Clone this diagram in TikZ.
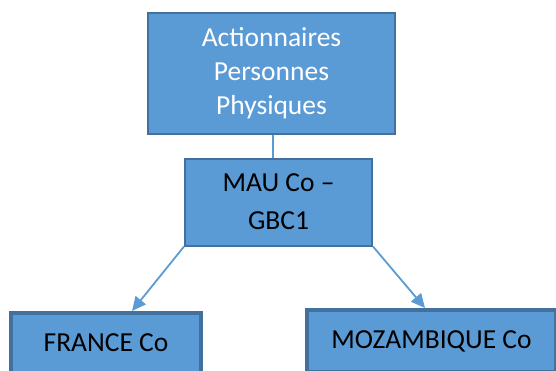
\documentclass[tikz,border=0pt]{standalone}
\usepackage{fontspec}
\setmainfont{Carlito}
\usepackage{xcolor}
\usetikzlibrary{arrows.meta, positioning}
\definecolor{orgfill}{HTML}{5B9BD5}
\definecolor{orgedge}{HTML}{41719C}
\tikzset{
  orgbox/.style={rectangle, draw=orgedge, line width=2pt, fill=orgfill,
    align=center, inner sep=0pt, font=\fontsize{27.5}{34}\selectfont},
  subbox/.style={orgbox, line width=4pt},
  ar/.style={-{Triangle[length=14pt, width=13pt]}, line width=1.8pt, orgfill},
  ln/.style={line width=1.8pt, orgfill},
}

\begin{document}
\begin{tikzpicture}[x=1pt, y=-1pt]
\useasboundingbox (0,0) rectangle (556,370);
\clip (0,0) rectangle (556,370);

% ---- Shareholders ----
\node[orgbox, text=white, minimum width=247pt, minimum height=121pt]
  (hold) at (271.5,73) {Actionnaires\\Personnes\\Physiques};

% ---- MAU Co ----
\node[orgbox, minimum width=187pt, minimum height=87pt,
  font=\fontsize{27.5}{38}\selectfont]
  (mau) at (278.5,202) {MAU Co --\\GBC1};

% ---- Subsidiaries ----
\node[subbox, minimum width=190pt, minimum height=60pt]
  (fra) at (106,343) {FRANCE Co};
\node[subbox, minimum width=249pt, minimum height=62pt]
  (moz) at (431.5,341) {MOZAMBIQUE Co};

% ---- Links ----
\draw[ln] ([xshift=1.5pt]hold.south) -- ([xshift=1.5pt]hold.south |- mau.north);
\draw[ar] (mau.south west) -- ([xshift=26pt]fra.north);
\draw[ar] (mau.south east) -- ([xshift=-6.5pt]moz.north);

\end{tikzpicture}
\end{document}
